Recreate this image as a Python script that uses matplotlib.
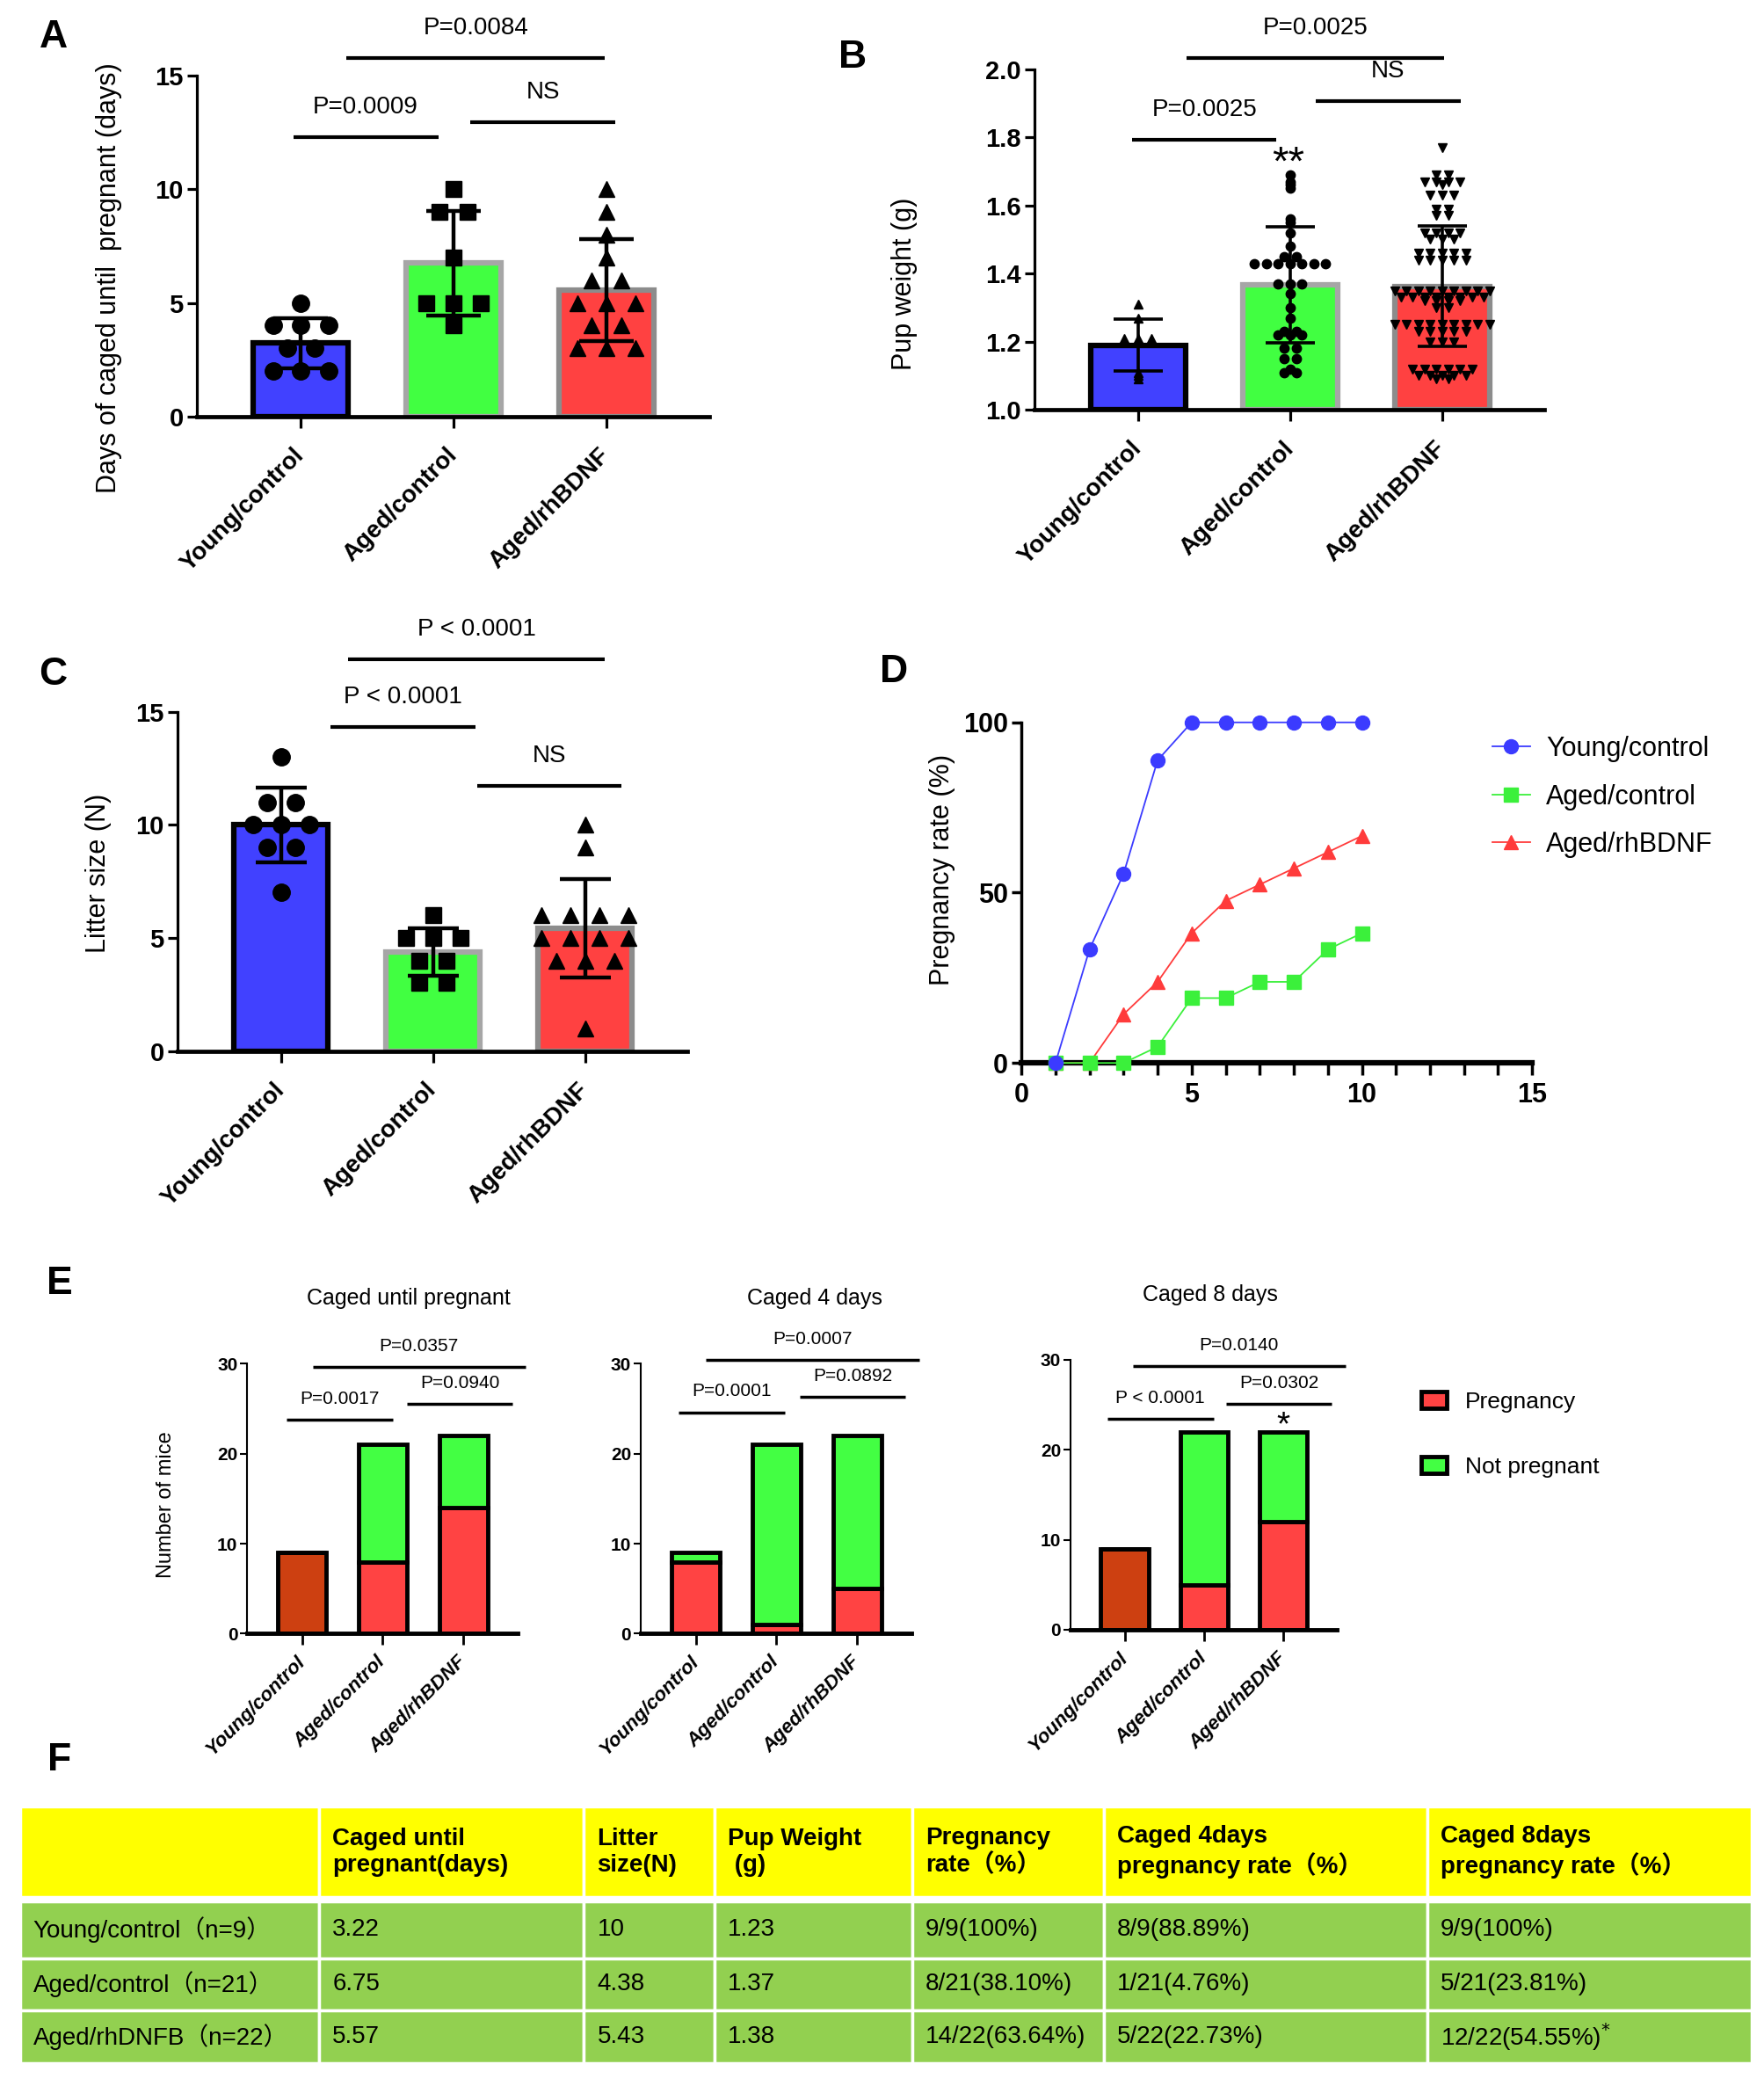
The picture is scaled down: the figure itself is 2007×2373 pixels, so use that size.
import numpy as np
import matplotlib
matplotlib.use("Agg")
import matplotlib.pyplot as plt
from matplotlib.patches import Rectangle

plt.rcParams['font.family'] = ['Liberation Sans', 'Noto Sans CJK SC']

groups = ["Young/control", "Aged/control", "Aged/rhBDNF"]
bar_colors = ["#4141FF", "#41FF41", "#FF4141"]
bar_edges = ["black", "#A6A6A6", "#8C8C8C"]

# A: days caged until pregnant
days_young = [5, 4, 4, 4, 3, 3, 2, 2, 2]
days_aged = [10, 9, 9, 7, 5, 5, 5, 4]
days_bdnf = [10, 9, 8, 7, 6, 6, 5, 5, 5, 4, 4, 3, 3, 3]

# B: pup weight (g)
pw_young = [1.31, 1.27, 1.21, 1.21, 1.21, 1.20, 1.11, 1.10, 1.09]
pw_aged = [1.69, 1.67, 1.66, 1.65, 1.56, 1.55, 1.52, 1.48, 1.45, 1.45,
           1.43, 1.43, 1.43, 1.43, 1.43, 1.43, 1.43, 1.37, 1.37, 1.37,
           1.34, 1.30, 1.27, 1.23, 1.23, 1.22, 1.22, 1.22, 1.18, 1.18,
           1.15, 1.15, 1.12, 1.11, 1.11]
pw_bdnf_vals = [1.77, 1.69, 1.67, 1.66, 1.63, 1.59, 1.57, 1.52, 1.50, 1.46, 1.44,
                1.35, 1.33, 1.32, 1.30, 1.25, 1.23, 1.20, 1.12, 1.10, 1.09]
pw_bdnf_counts = [1, 2, 4, 1, 3, 2, 2, 4, 3, 5, 5, 9, 8, 4, 2, 9, 5, 3, 6, 5, 2]

# C: litter size
litter_young = [13, 11, 11, 10, 10, 10, 9, 9, 7]
litter_aged = [6, 5, 5, 5, 4, 4, 3, 3]
litter_bdnf = [10, 9, 6, 6, 6, 6, 5, 5, 5, 5, 4, 4, 4, 1]

# D: pregnancy rate by day
day = [1, 2, 3, 4, 5, 6, 7, 8, 9, 10]
rate_young = [0, 33.33, 55.56, 88.89, 100, 100, 100, 100, 100, 100]
rate_aged = [0, 0, 0, 4.76, 19.05, 19.05, 23.81, 23.81, 33.33, 38.10]
rate_bdnf = [0, 0, 14.29, 23.81, 38.10, 47.62, 52.38, 57.14, 61.90, 66.67]

# E: number of mice
e_titles = ["Caged until pregnant", "Caged 4 days", "Caged 8 days"]
e_preg = [[9, 8, 14], [8, 1, 5], [9, 5, 12]]
e_notpreg = [[0, 13, 8], [1, 20, 17], [0, 17, 10]]
e_young_color = ["#CD4011", "#FF4343", "#CD4011"]

# significance bars: (x1, x2, y, label)
sig_a = [(-0.05, 0.90, 12.3, "P=0.0009"), (1.11, 2.06, 12.95, "NS"), (0.30, 1.99, 15.8, "P=0.0084")]
sig_b = [(-0.04, 0.91, 1.792, "P=0.0025"), (1.17, 2.12, 1.907, "NS"), (0.32, 2.01, 2.033, "P=0.0025")]
sig_c = [(0.325, 1.28, 14.33, "P < 0.0001"), (1.29, 2.24, 11.71, "NS"), (0.44, 2.13, 17.33, "P < 0.0001")]
sig_e = [
    [(-0.19, 1.13, 23.8, "P=0.0017"), (1.30, 2.61, 25.5, "P=0.0940"), (0.13, 2.77, 29.65, "P=0.0357")],
    [(-0.22, 1.11, 24.6, "P=0.0001"), (1.29, 2.60, 26.3, "P=0.0892"), (0.12, 2.77, 30.4, "P=0.0007")],
    [(-0.22, 1.12, 23.4, "P < 0.0001"), (1.28, 2.61, 25.1, "P=0.0302"), (0.10, 2.78, 29.3, "P=0.0140")],
]

# F: table
table_header = ["", "Caged until\npregnant(days)", "Litter\nsize(N)", "Pup Weight\n (g)",
                "Pregnancy\nrate（%）", "Caged 4days\npregnancy rate（%）", "Caged 8days\npregnancy rate（%）"]
table_rows = [
    ["Young/control（n=9）", "3.22", "10", "1.23", "9/9(100%)", "8/9(88.89%)", "9/9(100%)"],
    ["Aged/control（n=21）", "6.75", "4.38", "1.37", "8/21(38.10%)", "1/21(4.76%)", "5/21(23.81%)"],
    ["Aged/rhDNFB（n=22）", "5.57", "5.43", "1.38", "14/22(63.64%)", "5/22(22.73%)", "12/22(54.55%)$^{*}$"],
]

W, H = 1327.0, 1568.0
fig = plt.figure(figsize=(20.08, 23.73), dpi=100)


def place(x0, y0, x1, y1):
    return fig.add_axes([x0 / W, 1 - y1 / H, (x1 - x0) / W, (y1 - y0) / H])


def swarm(center, values, step):
    values = np.asarray(values, dtype=float)
    xs = np.empty(len(values))
    keys = np.round(values, 3)
    for k in np.unique(keys):
        idx = np.where(keys == k)[0]
        xs[idx] = center + (np.arange(len(idx)) - (len(idx) - 1) / 2) * step
    return xs


def sig_lines(ax, sigs, yrange, lw, fs, dy):
    for x1, x2, y, label in sigs:
        ax.plot([x1, x2], [y, y], color="black", lw=lw, clip_on=False, solid_capstyle="butt")
        ax.text((x1 + x2) / 2, y + dy * yrange, label, ha="center", va="center",
                fontsize=fs, clip_on=False)


def bar_panel(ax, data, markers, msizes, steps, ylim, yticks, yticklabels, ylabel,
              elw, capsize, sigs, label_xy):
    for i, vals in enumerate(data):
        m = np.mean(vals)
        sd = np.std(vals, ddof=1)
        ax.bar(i, m - ylim[0], bottom=ylim[0], width=0.62, color=bar_colors[i],
               edgecolor=bar_edges[i], linewidth=4.5, zorder=1)
        ax.plot(swarm(i, vals, steps[i]), vals, linestyle="none", marker=markers[i],
                ms=msizes[i], color="black", zorder=3, clip_on=False)
        ax.errorbar(i, m, yerr=sd, fmt="none", ecolor="black", elinewidth=elw,
                    capsize=capsize, capthick=elw, zorder=4)
    ax.set_xlim(-0.68, 2.67)
    ax.set_ylim(*ylim)
    ax.set_yticks(yticks)
    ax.set_yticklabels(yticklabels, fontsize=21, fontweight="bold")
    ax.set_xticks(range(3))
    ax.set_xticklabels(groups, rotation=45, ha="right", va="center", rotation_mode="anchor",
                       fontsize=20, fontweight="bold")
    for s in ["top", "right"]:
        ax.spines[s].set_visible(False)
    ax.spines["left"].set_linewidth(2.3)
    ax.spines["bottom"].set_linewidth(3.4)
    ax.tick_params(axis="y", length=8, width=2.3, pad=3)
    ax.tick_params(axis="x", length=9, width=2.3, pad=20)
    ax.set_ylabel(ylabel, fontsize=22)
    ax.yaxis.set_label_coords(*label_xy)
    sig_lines(ax, sigs, ylim[1] - ylim[0], 3.0, 20, 0.088)


# A
ax_a = place(148, 57, 533, 313)
bar_panel(ax_a, [days_young, days_aged, days_bdnf], ["o", "s", "^"], [14, 13, 13],
          [0.18, 0.18, 0.19], (0, 15), [0, 5, 10, 15], ["0", "5", "10", "15"],
          "Days of caged until  pregnant (days)", 3.2, 22, sig_a, (-0.145, 0.406))

# B
pw_bdnf = np.repeat(pw_bdnf_vals, pw_bdnf_counts)
ax_b = place(778, 52, 1161, 308)
bar_panel(ax_b, [pw_young, pw_aged, pw_bdnf], ["^", "o", "v"], [7, 7.5, 7],
          [0.09, 0.078, 0.078], (1.0, 2.0), [1.0, 1.2, 1.4, 1.6, 1.8, 2.0],
          ["1.0", "1.2", "1.4", "1.6", "1.8", "2.0"],
          "Pup weight (g)", 2.6, 20, sig_b, (-0.23, 0.37))
ax_b.text(0.99, 1.72, "**", ha="center", va="center", fontsize=34)

# C
ax_c = place(133.5, 535, 516.5, 790)
bar_panel(ax_c, [litter_young, litter_aged, litter_bdnf], ["o", "s", "^"], [14, 13, 13],
          [0.185, 0.18, 0.19], (0, 15), [0, 5, 10, 15], ["0", "5", "10", "15"],
          "Litter size (N)", 3.2, 21, sig_c, (-0.129, 0.525))

# D
ax_d = place(768, 543, 1152, 799)
ax_d.plot(day, rate_bdnf, "-^", color="#FF3B3B", lw=1.3, ms=11.5, clip_on=False, zorder=3,
          label="Aged/rhBDNF")
ax_d.plot(day, rate_aged, "-s", color="#3BF03B", lw=1.3, ms=11, clip_on=False, zorder=4,
          label="Aged/control")
ax_d.plot(day, rate_young, "-o", color="#3B3BFF", lw=1.3, ms=11.5, clip_on=False, zorder=5,
          label="Young/control")
ax_d.set_xlim(0, 15)
ax_d.set_ylim(0, 100)
ax_d.set_xticks([0, 5, 10, 15])
ax_d.set_xticks(range(16), minor=True)
ax_d.set_yticks([0, 50, 100])
ax_d.set_xticklabels(["0", "5", "10", "15"], fontsize=22, fontweight="bold")
ax_d.set_yticklabels(["0", "50", "100"], fontsize=22, fontweight="bold")
for s in ["top", "right"]:
    ax_d.spines[s].set_visible(False)
ax_d.spines["left"].set_linewidth(2.5)
ax_d.spines["bottom"].set_linewidth(4.5)
ax_d.tick_params(axis="y", length=8, width=2.5, pad=3)
ax_d.tick_params(axis="x", which="both", length=10, width=2.5, pad=6)
ax_d.set_ylabel("Pregnancy rate (%)", fontsize=22)
ax_d.yaxis.set_label_coords(-0.13, 0.566)
h, l = ax_d.get_legend_handles_labels()
ax_d.legend(h[::-1], l[::-1], loc="upper left", bbox_to_anchor=(1104 / W, 1 - 535 / H),
            bbox_transform=fig.transFigure, frameon=False, fontsize=22,
            handlelength=1.4, labelspacing=0.8, handletextpad=0.6)

# E
e_boxes = [(186, 1025, 389, 1228), (482, 1025, 685, 1228), (805, 1022, 1005, 1225)]
e_title_x = [1.32, 1.47, 1.08]
for k in range(3):
    ax = place(*e_boxes[k])
    pc = [e_young_color[k], "#FF4343", "#FF4343"]
    for i in range(3):
        ax.bar(i, e_preg[k][i], width=0.6, color=pc[i], edgecolor="black", linewidth=3.5, zorder=2)
        ax.bar(i, e_notpreg[k][i], bottom=e_preg[k][i], width=0.6, color="#43FF43",
               edgecolor="black", linewidth=3.5, zorder=2)
    ax.set_xlim(-0.68, 2.67)
    ax.set_ylim(0, 30)
    ax.set_yticks([0, 10, 20, 30])
    ax.set_yticklabels(["0", "10", "20", "30"], fontsize=15, fontweight="bold")
    ax.set_xticks(range(3))
    ax.set_xticklabels(groups, rotation=45, ha="right", va="center", rotation_mode="anchor",
                       fontsize=16, fontweight="bold", style="italic")
    for s in ["top", "right"]:
        ax.spines[s].set_visible(False)
    ax.spines["left"].set_linewidth(1.5)
    ax.spines["bottom"].set_linewidth(3.5)
    ax.tick_params(axis="y", length=6, width=1.5, pad=2)
    ax.tick_params(axis="x", length=9, width=2, pad=12)
    ax.text(e_title_x[k], 37.2, e_titles[k], ha="center", va="center", fontsize=18, clip_on=False)
    sig_lines(ax, sig_e[k], 30, 2.5, 15, 0.077)
    if k == 0:
        ax.set_ylabel("Number of mice", fontsize=17)
        ax.yaxis.set_label_coords(-0.266, 0.478)
    if k == 2:
        ax.text(2.0, 22.6, "*", ha="center", va="center", fontsize=28)
        hp = [Rectangle((0, 0), 1, 1, fc="#FF4343", ec="black", lw=3.5),
              Rectangle((0, 0), 1, 1, fc="#43FF43", ec="black", lw=3.5)]
        fig.legend(hp, ["Pregnancy", "Not pregnant"], loc="upper left",
                   bbox_to_anchor=(1053 / W, 1 - 1030 / H), frameon=False, fontsize=19,
                   handlelength=1.1, handleheight=0.7, labelspacing=1.9, handletextpad=0.8)

# F table
ax_t = place(15, 1358, 1317, 1551)
ax_t.set_xlim(0, 1302)
ax_t.set_ylim(193, 0)
ax_t.axis("off")
col_edges = [0, 225, 424, 522, 671, 815, 1058, 1302]
row_spans = [(0, 68), (71, 114), (114, 153), (153, 193)]
for r, (y0, y1) in enumerate(row_spans):
    cells = table_header if r == 0 else table_rows[r - 1]
    for c in range(7):
        x0, x1 = col_edges[c], col_edges[c + 1]
        ax_t.add_patch(Rectangle((x0, y0), x1 - x0, y1 - y0,
                                 fc="#FFFF00" if r == 0 else "#92D050", ec="white", lw=2.5))
        ax_t.text(x0 + 10, (y0 + y1) / 2, cells[c], ha="left", va="center", fontsize=20,
                  fontweight="bold" if r == 0 else "normal", linespacing=1.2)

# panel letters
for letter, (lx, ly) in zip("ABCDEF", [(40, 28), (641, 43), (40, 507), (672, 505), (45, 965), (45, 1323)]):
    fig.text(lx / W, 1 - ly / H, letter, fontsize=32, fontweight="bold", ha="center", va="center")

fig.savefig("out.png", dpi=100)
